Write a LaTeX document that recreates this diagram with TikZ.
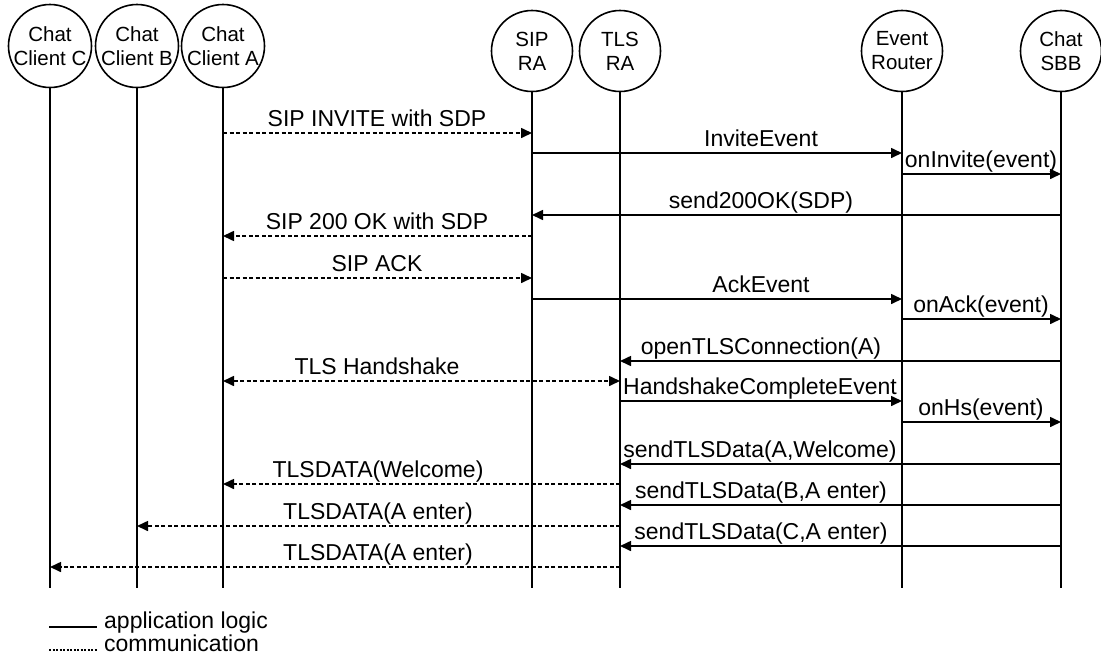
\documentclass[tikz,border=0pt]{standalone}
\usepackage{fontspec}
\setmainfont{Liberation Sans}
\usetikzlibrary{arrows.meta}
\tikzstyle{actor}=[shape=circle, draw, line width=1.6pt, inner sep=0, align=center, font=\fontsize{20.5}{24}\selectfont]
\tikzstyle{life}=[line width=1.8pt]
\tikzstyle{msg}=[line width=1.6pt, -{Triangle[length=11pt,width=10pt]}]
\tikzstyle{com}=[msg, dash pattern=on 4pt off 2.5pt]
\tikzstyle{lbl}=[anchor=base, inner sep=0, yshift=7pt, font=\fontsize{23}{26}\selectfont]

\begin{document}
\begin{tikzpicture}[x=1pt, y=-1pt]
\useasboundingbox (0,0) rectangle (1101,667);
% participants
\node at (50,46)[actor, minimum size=83pt](cc){Chat\\Client C};
\node at (137,46)[actor, minimum size=83pt](cb){Chat\\Client B};
\node at (223,46)[actor, minimum size=83pt](ca){Chat\\Client A};
\node at (532,51)[actor, minimum size=81pt](sip){SIP\\RA};
\node at (620,51)[actor, minimum size=81pt](tls){TLS\\RA};
\node at (902,51)[actor, minimum size=81pt](er){Event\\Router};
\node at (1061,51)[actor, minimum size=81pt](sbb){Chat\\SBB};
\foreach \p in {cc,cb,ca,sip,tls,er,sbb} {\draw[life] (\p.south)--(\p |- 0,588);}

% call setup
\draw[com] (ca |- 0,133)--(sip |- 0,133);
\node[lbl] at (377,133)(m1){SIP INVITE with SDP};
\draw[msg] (sip |- 0,153)--(er |- 0,153);
\node[lbl] at (761,153)(m2){InviteEvent};
\draw[msg] (er |- 0,174)--(sbb |- 0,174);
\node[lbl] at (981,174)(m3){onInvite(event)};
\draw[msg] (sbb |- 0,215)--(sip |- 0,215);
\node[lbl] at (761,215)(m4){send200OK(SDP)};
\draw[com] (sip |- 0,236)--(ca |- 0,236);
\node[lbl] at (377,236)(m5){SIP 200 OK with SDP};
\draw[com] (ca |- 0,278)--(sip |- 0,278);
\node[lbl] at (377,278)(m6){SIP ACK};
\draw[msg] (sip |- 0,299)--(er |- 0,299);
\node[lbl] at (761,299)(m7){AckEvent};
\draw[msg] (er |- 0,319)--(sbb |- 0,319);
\node[lbl] at (981,319)(m8){onAck(event)};

% tls
\draw[msg] (sbb |- 0,361)--(tls |- 0,361);
\node[lbl] at (761,361)(m9){openTLSConnection(A)};
\draw[com, {Triangle[length=11pt,width=10pt]}-{Triangle[length=11pt,width=10pt]}] (ca |- 0,381)--(tls |- 0,381);
\node[lbl] at (377,381)(m10){TLS Handshake};
\draw[msg] (tls |- 0,401)--(er |- 0,401);
\node[lbl] at (760,401)(m11){HandshakeCompleteEvent};
\draw[msg] (er |- 0,422)--(sbb |- 0,422);
\node[lbl] at (981,422)(m12){onHs(event)};

% chat data
\draw[msg] (sbb |- 0,464)--(tls |- 0,464);
\node[lbl] at (760,464)(m13){sendTLSData(A,Welcome)};
\draw[com] (tls |- 0,484)--(ca |- 0,484);
\node[lbl] at (378,484)(m14){TLSDATA(Welcome)};
\draw[msg] (sbb |- 0,505)--(tls |- 0,505);
\node[lbl] at (761,505)(m15){sendTLSData(B,A enter)};
\draw[com] (tls |- 0,526)--(cb |- 0,526);
\node[lbl] at (378,526)(m16){TLSDATA(A enter)};
\draw[msg] (sbb |- 0,546)--(tls |- 0,546);
\node[lbl] at (761,546)(m17){sendTLSData(C,A enter)};
\draw[com] (tls |- 0,567)--(cc |- 0,567);
\node[lbl] at (378,567)(m18){TLSDATA(A enter)};

% legend
\coordinate (k1) at (49,627);
\coordinate (k2) at (49,650);
\node[lbl, anchor=base west, yshift=0pt] at (104,635)(lg1){application logic};
\node[lbl, anchor=base west, yshift=0pt] at (104,658)(lg2){communication};
\draw[life, line width=1.4pt] (k1)--(k1 -| 97,0);
\draw[line width=1.2pt, dash pattern=on 2pt off 1.5pt] (k2)--(k2 -| 97,0);
\end{tikzpicture}
\end{document}
